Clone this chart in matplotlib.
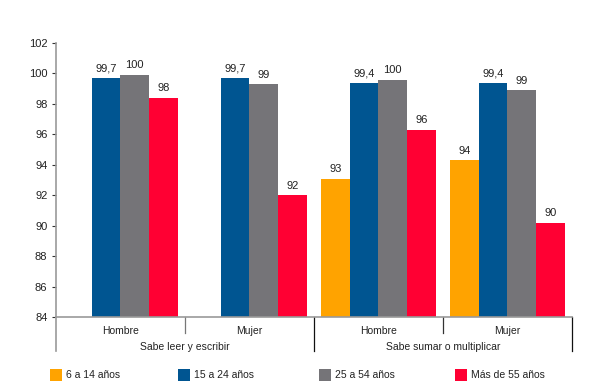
import numpy as np
import matplotlib
matplotlib.use("Agg")
import matplotlib.pyplot as plt
from matplotlib.patches import Rectangle

# data
groups = ["Hombre", "Mujer", "Hombre", "Mujer"]
categories = ["Sabe leer y escribir", "Sabe sumar o multiplicar"]
series = ["6 a 14 años", "15 a 24 años", "25 a 54 años", "Más de 55 años"]
v_6_14 = [np.nan, np.nan, 93.1, 94.3]
v_15_24 = [99.7, 99.7, 99.4, 99.4]
v_25_54 = [99.9, 99.3, 99.6, 98.9]
v_55 = [98.4, 92.0, 96.3, 90.2]
lab_6_14 = ["", "", "93", "94"]
lab_15_24 = ["99,7", "99,7", "99,4", "99,4"]
lab_25_54 = ["100", "99", "100", "99"]
lab_55 = ["98", "92", "96", "90"]
yticks = list(range(84, 103, 2))

colors = ["#FFA300", "#005591", "#757478", "#FF0033"]
values = [v_6_14, v_15_24, v_25_54, v_55]
labels = [lab_6_14, lab_15_24, lab_25_54, lab_55]

plt.rcParams["font.family"] = ["Liberation Sans", "DejaVu Sans"]
fig = plt.figure(figsize=(6, 3.91), dpi=100)
ax = fig.add_axes([0.093, 0.189, 0.860, 0.701])

x = np.arange(len(groups))
w = 0.222
for k in range(4):
    xs = x + (k - 1.5) * w
    ax.bar(xs, np.array(values[k]) - 84, bottom=84, width=w, color=colors[k], linewidth=0)
    for xi, v, t in zip(xs, values[k], labels[k]):
        if t:
            ax.text(xi, v + 0.3, t, ha="center", va="bottom", fontsize=8, color="#222222")

ax.set_xlim(-0.5, 3.5)
ax.set_ylim(84, 102)
ax.set_yticks(yticks)
ax.set_yticklabels([str(t) for t in yticks], fontsize=8, color="#222222")
ax.tick_params(axis="y", length=3, width=0.8, color="#333333", pad=3)
ax.set_xticks([])
for s in ["top", "right"]:
    ax.spines[s].set_visible(False)
ax.spines["left"].set_color("#999999")
ax.spines["bottom"].set_color("#999999")
ax.spines["left"].set_linewidth(1.2)
ax.spines["bottom"].set_linewidth(1.2)

tr = ax.get_xaxis_transform()
# extended left spine
ax.plot([-0.5, -0.5], [0, -0.124], transform=tr, color="#999999", lw=1.2, clip_on=False)
# dividers
ax.plot([0.5, 0.5], [0, -0.058], transform=tr, color="#777777", lw=0.9, clip_on=False)
ax.plot([2.5, 2.5], [0, -0.058], transform=tr, color="#333333", lw=0.9, clip_on=False)
ax.plot([1.5, 1.5], [0, -0.124], transform=tr, color="#111111", lw=0.9, clip_on=False)
ax.plot([3.5, 3.5], [0, -0.124], transform=tr, color="#111111", lw=0.9, clip_on=False)

for xi, g in zip(x, groups):
    ax.text(xi, -0.05, g, transform=tr, ha="center", va="center", fontsize=7.5, color="#222222")
for ci, c in enumerate(categories):
    ax.text(ci * 2 + 0.5, -0.108, c, transform=tr, ha="center", va="center", fontsize=7.5, color="#222222")

# legend
leg_x = [50, 178, 319, 455]
for lx, col, name in zip(leg_x, colors, series):
    fig.add_artist(Rectangle((lx / 600, (391 - 381) / 391), 12 / 600, 12 / 391,
                             transform=fig.transFigure, color=col, linewidth=0))
    fig.text((lx + 16) / 600, (391 - 375) / 391, name, ha="left", va="center",
             fontsize=7.5, color="#222222")

fig.savefig("out.png", dpi=100)
